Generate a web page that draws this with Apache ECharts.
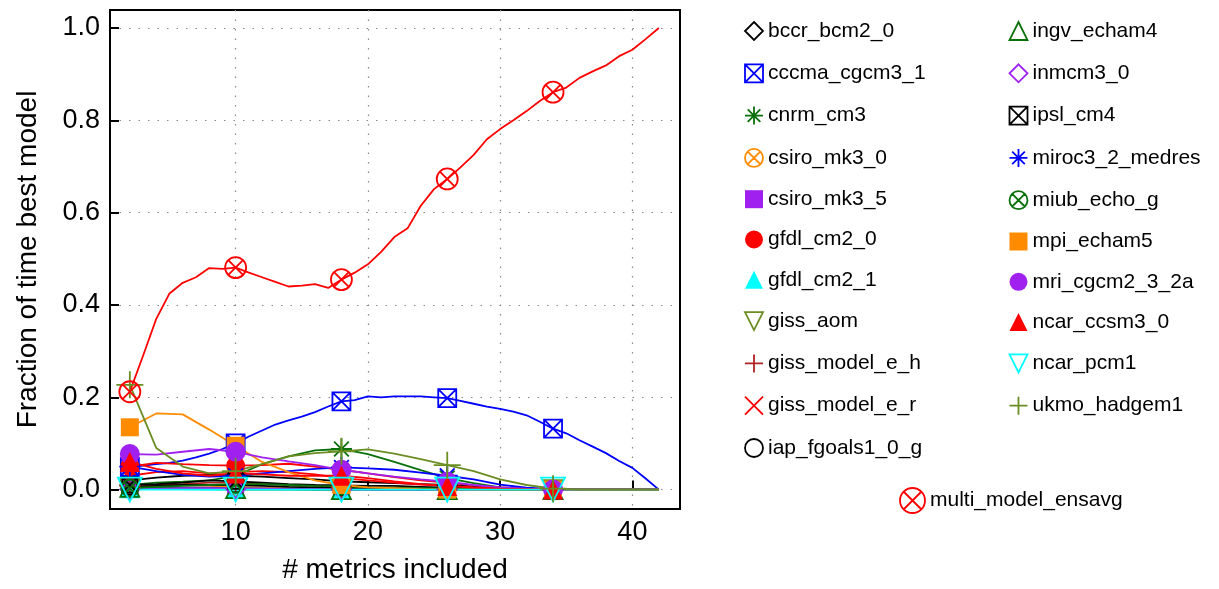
<!DOCTYPE html>
<html>
<head>
<meta charset="utf-8">
<script src="https://cdn.jsdelivr.net/npm/echarts@6/dist/echarts.min.js"></script>
<style>
	html, body { margin: 0; background: #fff; }
	#chart { width: 1219px; height: 589px; }
</style>
</head>
<body>
<div id="chart"></div>
<script>
// x positions (# metrics included)
var xCoarse = [2, 4, 6, 8, 10, 12, 14, 16, 18, 20, 22, 24, 26, 28, 30, 32, 34, 36, 38, 40, 42];
var xFine = [2, 3, 4, 5, 6, 7, 8, 9, 10, 11, 12, 13, 14, 15, 16, 17, 18, 19, 20, 21, 22, 23, 24, 25, 26, 27, 28, 29, 30, 31, 32, 33, 34, 35, 36, 37, 38, 39, 40, 41, 42];
var markerX = [2, 10, 18, 26, 34];

var yTickValues = [0, 0.2, 0.4, 0.6, 0.8, 1.0];
var xTickValues = [10, 20, 30, 40];

// fraction of time best model
var bccr_bcm2_0     = [0.02, 0.026, 0.03, 0.032, 0.03, 0.028, 0.025, 0.022, 0.018, 0.016, 0.014, 0.012, 0.01, 0.007, 0.004, 0.002, 0, 0, 0, 0, 0];
var cccma_cgcm3_1   = [0.049, 0.052, 0.055, 0.058, 0.063, 0.07, 0.078, 0.088, 0.1, 0.115, 0.128, 0.141, 0.15, 0.158, 0.168, 0.18, 0.191, 0.194, 0.202, 0.2, 0.202, 0.202, 0.202, 0.2, 0.198, 0.192, 0.186, 0.18, 0.175, 0.169, 0.161, 0.147, 0.132, 0.122, 0.107, 0.093, 0.079, 0.062, 0.047, 0.024, 0];
var cnrm_cm3        = [0.01, 0.015, 0.017, 0.02, 0.03, 0.055, 0.072, 0.085, 0.088, 0.077, 0.06, 0.042, 0.025, 0.014, 0.005, 0.001, 0, 0, 0, 0, 0];
var csiro_mk3_0     = [0.006, 0.009, 0.01, 0.008, 0.006, 0.004, 0.003, 0.002, 0.001, 0, 0, 0, 0, 0, 0, 0, 0, 0, 0, 0, 0];
var csiro_mk3_5     = [0.002, 0.003, 0.004, 0.004, 0.003, 0.002, 0.002, 0.001, 0, 0, 0, 0, 0, 0, 0, 0, 0, 0, 0, 0, 0];
var gfdl_cm2_0      = [0.05, 0.058, 0.055, 0.053, 0.052, 0.053, 0.056, 0.05, 0.043, 0.035, 0.027, 0.02, 0.015, 0.009, 0.005, 0.002, 0, 0, 0, 0, 0];
var gfdl_cm2_1      = [0.002, 0.001, 0.001, 0, 0, 0, 0, 0, 0, 0, 0, 0, 0, 0, 0, 0, 0, 0, 0, 0, 0];
var giss_aom        = [0.003, 0.002, 0.001, 0.001, 0, 0, 0, 0, 0, 0, 0, 0, 0, 0, 0, 0, 0, 0, 0, 0, 0];
var giss_model_e_h  = [0.008, 0.01, 0.012, 0.015, 0.015, 0.012, 0.01, 0.008, 0.006, 0.004, 0.003, 0.002, 0.001, 0, 0, 0, 0, 0, 0, 0, 0];
var giss_model_e_r  = [0.03, 0.038, 0.04, 0.035, 0.038, 0.04, 0.038, 0.033, 0.025, 0.02, 0.015, 0.011, 0.008, 0.005, 0.003, 0.001, 0, 0, 0, 0, 0];
var iap_fgoals1_0_g = [0.005, 0.008, 0.01, 0.01, 0.01, 0.008, 0.006, 0.005, 0.004, 0.003, 0.002, 0.001, 0, 0, 0, 0, 0, 0, 0, 0, 0];
var ingv_echam4     = [0.005, 0.004, 0.003, 0.003, 0.002, 0.002, 0.001, 0, 0, 0, 0, 0, 0, 0, 0, 0, 0, 0, 0, 0, 0];
var inmcm3_0        = [0.001, 0.002, 0.003, 0.003, 0.002, 0.002, 0.001, 0.001, 0, 0, 0, 0, 0, 0, 0, 0, 0, 0, 0, 0, 0];
var ipsl_cm4        = [0.01, 0.012, 0.015, 0.02, 0.018, 0.015, 0.012, 0.01, 0.009, 0.008, 0.008, 0.006, 0.004, 0.002, 0.001, 0, 0, 0, 0, 0, 0];
var miroc3_2_medres = [0.05, 0.04, 0.032, 0.028, 0.03, 0.035, 0.04, 0.045, 0.048, 0.046, 0.043, 0.037, 0.03, 0.022, 0.011, 0.004, 0.001, 0, 0, 0, 0];
var miub_echo_g     = [0.003, 0.006, 0.008, 0.01, 0.012, 0.012, 0.01, 0.008, 0.007, 0.005, 0.004, 0.003, 0.002, 0.001, 0, 0, 0, 0, 0, 0, 0];
var mpi_echam5      = [0.135, 0.165, 0.163, 0.13, 0.095, 0.06, 0.038, 0.02, 0.01, 0.005, 0.003, 0.001, 0, 0, 0, 0, 0, 0, 0, 0, 0];
var mri_cgcm2_3_2a  = [0.077, 0.076, 0.082, 0.088, 0.082, 0.07, 0.061, 0.053, 0.043, 0.035, 0.028, 0.022, 0.017, 0.01, 0.005, 0.002, 0, 0, 0, 0, 0];
var ncar_ccsm3_0    = [0.06, 0.045, 0.035, 0.03, 0.035, 0.033, 0.03, 0.03, 0.03, 0.025, 0.018, 0.012, 0.008, 0.004, 0.002, 0.001, 0, 0, 0, 0, 0];
var ncar_pcm1       = [0, 0, 0, 0, 0, 0, 0, 0, 0, 0, 0, 0, 0, 0, 0, 0, 0, 0, 0, 0, 0];
var ukmo_hadgem1    = [0.227, 0.09, 0.05, 0.035, 0.04, 0.055, 0.072, 0.079, 0.083, 0.087, 0.078, 0.066, 0.053, 0.04, 0.022, 0.01, 0.002, 0, 0, 0, 0];
var multi_model_ensavg = [0.212, 0.29, 0.37, 0.425, 0.448, 0.46, 0.48, 0.478, 0.481, 0.47, 0.46, 0.45, 0.44, 0.442, 0.445, 0.437, 0.455, 0.47, 0.488, 0.515, 0.547, 0.566, 0.615, 0.651, 0.673, 0.698, 0.725, 0.759, 0.781, 0.8, 0.82, 0.842, 0.861, 0.871, 0.892, 0.906, 0.919, 0.939, 0.953, 0.976, 1.0];

var C = {
	black: '#000000',
	blue: '#0000ff',
	green: '#0a700a',
	orange: '#ff8c00',
	purple: '#a020f0',
	red: '#ff0000',
	cyan: '#00ffff',
	olive: '#6b8e23',
	brick: '#b22222'
};

var SYM = {
	diamond: 'path://M50 0L100 50L50 100L0 50Z',
	boxX: 'path://M0 0L100 0L100 100L0 100ZM0 0L100 100M100 0L0 100',
	asterisk: 'path://M50 0L50 100M0 50L100 50M15 15L85 85M85 15L15 85',
	circleX: 'path://M100 50A50 50 0 1 1 0 50A50 50 0 1 1 100 50ZM15 15L85 85M85 15L15 85',
	ring: 'path://M100 50A50 50 0 1 1 0 50A50 50 0 1 1 100 50Z',
	triUp: 'path://M50 0L100 100L0 100Z',
	triDown: 'path://M0 0L100 0L50 100Z',
	plus: 'path://M50 0L50 100M0 50L100 50',
	cross: 'path://M0 0L100 100M100 0L0 100'
};

// name, values, x, colour, symbol, filled, marker size
var models = [
	['bccr_bcm2_0', bccr_bcm2_0, xCoarse, C.black, SYM.diamond, false, 19],
	['cccma_cgcm3_1', cccma_cgcm3_1, xFine, C.blue, SYM.boxX, false, 18],
	['cnrm_cm3', cnrm_cm3, xCoarse, C.green, SYM.asterisk, false, 21],
	['csiro_mk3_0', csiro_mk3_0, xCoarse, C.orange, SYM.circleX, false, 17],
	['csiro_mk3_5', csiro_mk3_5, xCoarse, C.purple, 'rect', true, 17],
	['gfdl_cm2_0', gfdl_cm2_0, xCoarse, C.red, 'circle', true, 19],
	['gfdl_cm2_1', gfdl_cm2_1, xCoarse, C.cyan, 'triangle', true, 19],
	['giss_aom', giss_aom, xCoarse, C.olive, SYM.triDown, false, 19],
	['giss_model_e_h', giss_model_e_h, xCoarse, C.brick, SYM.plus, false, 21],
	['giss_model_e_r', giss_model_e_r, xCoarse, C.red, SYM.cross, false, 17],
	['iap_fgoals1_0_g', iap_fgoals1_0_g, xCoarse, C.black, SYM.ring, false, 15],
	['ingv_echam4', ingv_echam4, xCoarse, C.green, SYM.triUp, false, 19],
	['inmcm3_0', inmcm3_0, xCoarse, C.purple, SYM.diamond, false, 19],
	['ipsl_cm4', ipsl_cm4, xCoarse, C.black, SYM.boxX, false, 15],
	['miroc3_2_medres', miroc3_2_medres, xCoarse, C.blue, SYM.asterisk, false, 21],
	['miub_echo_g', miub_echo_g, xCoarse, C.green, SYM.circleX, false, 17],
	['mpi_echam5', mpi_echam5, xCoarse, C.orange, 'rect', true, 18],
	['mri_cgcm2_3_2a', mri_cgcm2_3_2a, xCoarse, C.purple, 'circle', true, 20],
	['ncar_ccsm3_0', ncar_ccsm3_0, xCoarse, C.red, 'triangle', true, 20],
	['ncar_pcm1', ncar_pcm1, xCoarse, C.cyan, SYM.triDown, false, 24],
	['ukmo_hadgem1', ukmo_hadgem1, xCoarse, C.olive, SYM.plus, false, 27],
	['multi_model_ensavg', multi_model_ensavg, xFine, C.red, SYM.circleX, false, 21]
];

var FONT = "'Liberation Sans', Arial, Helvetica, sans-serif";

function symbolStyle(m) {
	if (m[5]) return { color: m[3], borderWidth: 0 };
	return { color: 'none', borderColor: m[3], borderWidth: 1.8 };
}

function buildSeries(m) {
	var xs = m[2];
	var data = m[1].map(function (y, i) {
		return {
			value: [xs[i], y],
			symbol: markerX.indexOf(xs[i]) >= 0 ? m[4] : 'none'
		};
	});
	return {
		name: m[0],
		type: 'line',
		data: data,
		symbol: m[4],
		symbolSize: m[6],
		showSymbol: true,
		showAllSymbol: true,
		itemStyle: symbolStyle(m),
		lineStyle: { color: m[3], width: 1.8 },
		emphasis: { disabled: true },
		animation: false
	};
}

function legendItem(m) {
	return { name: m[0], icon: m[4], itemStyle: symbolStyle(m) };
}

var legendText = { fontSize: 21, lineHeight: 21, color: '#000', fontFamily: FONT };
var legendCommon = {
	orient: 'vertical',
	itemWidth: 18,
	itemHeight: 18,
	itemGap: 19.3,
	selectedMode: false,
	padding: 0,
	textStyle: legendText
};

var leftCol = models.slice(0, 11).map(legendItem);
var rightCol = models.slice(11, 21).map(legendItem);

var chart = echarts.init(document.getElementById('chart'));

chart.setOption({
	animation: false,
	backgroundColor: '#fff',
	grid: {
		left: 110,
		right: 539,
		top: 10,
		bottom: 78,
		show: true,
		borderColor: '#000',
		borderWidth: 2,
		backgroundColor: '#fff'
	},
	legend: [
		Object.assign({}, legendCommon, { left: 742.5, top: 19.5, data: leftCol }),
		Object.assign({}, legendCommon, { left: 1007, top: 19.5, data: rightCol }),
		Object.assign({}, legendCommon, {
			left: 897.5, top: 485.5, itemWidth: 25, itemHeight: 25,
			data: [legendItem(models[21])]
		})
	],
	xAxis: {
		type: 'value',
		min: 0.5,
		max: 43.6,
		name: '# metrics included',
		nameLocation: 'middle',
		nameGap: 47,
		nameTextStyle: { fontSize: 28, color: '#000', fontFamily: FONT },
		axisLine: { show: false },
		axisTick: { show: true, inside: true, length: 9, lineStyle: { color: '#000', width: 2 } },
		axisLabel: {
			margin: 10,
			fontSize: 27,
			color: '#000',
			fontFamily: FONT,
			formatter: function (v) {
				return xTickValues.indexOf(v) >= 0 ? String(v) : '';
			}
		},
		splitLine: {
			show: true,
			showMinLine: false,
			showMaxLine: false,
			lineStyle: { color: '#888', width: 1.2, type: [1.5, 8] }
		}
	},
	yAxis: {
		type: 'value',
		min: -0.042,
		max: 1.039,
		name: 'Fraction of time best model',
		nameLocation: 'middle',
		nameGap: 68,
		nameTextStyle: { fontSize: 28, color: '#000', fontFamily: FONT },
		axisLine: { show: false },
		axisTick: { show: true, inside: true, length: 9, lineStyle: { color: '#000', width: 2 } },
		axisLabel: {
			margin: 10,
			fontSize: 27,
			color: '#000',
			fontFamily: FONT,
			formatter: function (v) {
				for (var i = 0; i < yTickValues.length; i++) {
					if (Math.abs(v - yTickValues[i]) < 1e-6) return yTickValues[i].toFixed(1);
				}
				return '';
			}
		},
		splitLine: {
			show: true,
			showMinLine: false,
			showMaxLine: false,
			lineStyle: { color: '#888', width: 1.2, type: [1.5, 8] }
		}
	},
	series: models.map(buildSeries)
});
</script>
</body>
</html>
